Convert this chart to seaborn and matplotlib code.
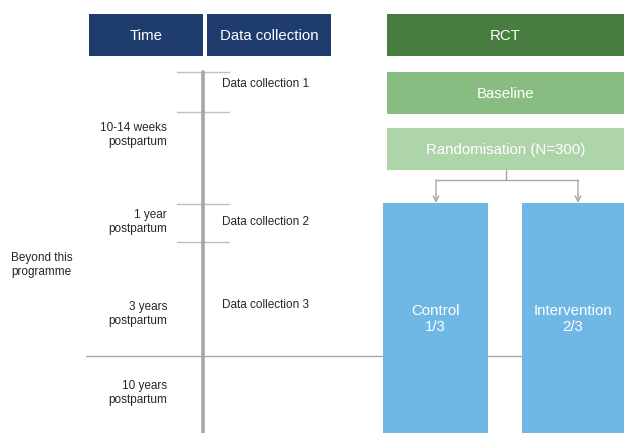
import matplotlib.pyplot as plt
from matplotlib.patches import Rectangle
import seaborn as sns

# labels of the study diagram
headers = ["Time", "Data collection", "RCT"]
rct_steps = ["Baseline", "Randomisation (N=300)"]
time_points = ["10-14 weeks\npostpartum", "1 year\npostpartum", "3 years\npostpartum", "10 years\npostpartum"]
collections = ["Data collection 1", "Data collection 2", "Data collection 3"]
arms = ["Control\n1/3", "Intervention\n2/3"]
beyond = "Beyond this\nprogramme"

sns.set_style("white")
plt.rcParams["font.family"] = ["Liberation Sans", "DejaVu Sans"]

navy = "#1F3C6E"
greens = ["#477E40", "#87BD80", "#AED4A9"]
blue = "#6FB7E4"
grey = "#A6A6A6"

fig = plt.figure(figsize=(6.24, 4.33), dpi=100)
ax = fig.add_axes([0, 0, 1, 1])
ax.set_xlim(0, 624)
ax.set_ylim(433, 0)
ax.axis("off")


def box(x0, x1, y0, y1, color, text=None, size=10.8):
    ax.add_patch(Rectangle((x0, y0), x1 - x0, y1 - y0, color=color, lw=0, zorder=3))
    if text:
        ax.text((x0 + x1) / 2, (y0 + y1) / 2 + 1, text, color="white", ha="center",
                va="center", fontsize=size, zorder=4, linespacing=1.2)


# header row
box(89, 203, 14, 56, navy, headers[0])
box(207, 331, 14, 56, navy, headers[1])
box(387, 624, 14, 56, greens[0], headers[2])

# RCT steps
box(387, 624, 72, 114, greens[1], rct_steps[0])
box(387, 624, 128, 170, greens[2], rct_steps[1])

# arms
box(383, 488, 203, 433, blue, arms[0])
box(522, 624, 203, 433, blue, arms[1])

# connector from randomisation to arms
ax.plot([506, 506], [170, 180], color=grey, lw=1, zorder=2)
ax.plot([436, 578], [180, 180], color=grey, lw=1, zorder=2)
for xa in [436, 578]:
    ax.annotate("", xy=(xa, 203), xytext=(xa, 180),
                arrowprops=dict(arrowstyle="->", color=grey, lw=1,
                                shrinkA=0, shrinkB=0, mutation_scale=10), zorder=2)

# timeline
ax.plot([203, 203], [72, 433], color=grey, lw=2.6, zorder=2)
for yt in [72, 112, 204, 242]:
    ax.plot([177, 229], [yt, yt], color="#BFBFBF", lw=1, zorder=1)
ax.plot([86, 624], [356, 356], color=grey, lw=1, zorder=1)

# time labels
for lab, yy in zip(time_points, [135, 222, 314, 393]):
    ax.text(167, yy, lab, ha="right", va="center", fontsize=8.5, linespacing=1.2)
ax.text(11, 265, beyond, ha="left", va="center", fontsize=8.5, linespacing=1.2)

for lab, yy in zip(collections, [84, 222, 305]):
    ax.text(222, yy, lab, ha="left", va="center", fontsize=8.5)

fig.savefig("out.png", dpi=100, facecolor="white")
